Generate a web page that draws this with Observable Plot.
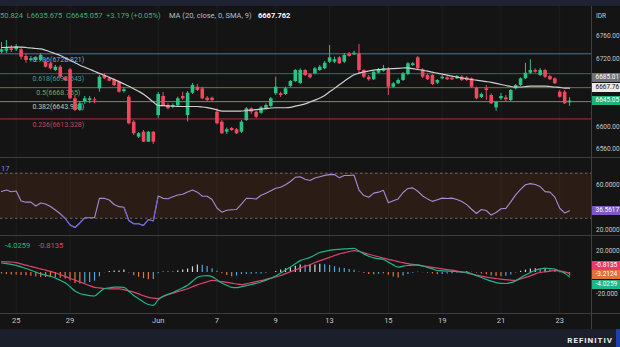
<!DOCTYPE html>
<html><head><meta charset="utf-8">
<script src="https://cdn.jsdelivr.net/npm/d3@7"></script>
<script src="https://cdn.jsdelivr.net/npm/@observablehq/plot@0.6"></script>
<style>
html,body{margin:0;padding:0;background:#141414;}
#root{position:relative;width:620px;height:347px;overflow:hidden;background:#141414;font-family:Roboto,"Noto Sans",sans-serif;}
.tag{position:absolute;left:592px;width:28px;height:9px;font-size:6.5px;line-height:9px;padding-left:3.5px;box-sizing:border-box;white-space:nowrap;overflow:hidden;}
.leg{position:absolute;font-size:7.5px;line-height:9px;white-space:nowrap;}
</style></head>
<body><div id="root"></div>
<script>
// ---------- DATA (4-hour candles, USD/IDR) ----------
const opens = [6731.6,6733.4,6737.7,6735.9,6735.9,6724.0,6716.9,6716.9,6716.9,6713.9,
6711.1,6699.2,6705.0,6686.2,6700.4,6649.0,6628.3,6644.2,6646.0,6647.2,
6666.7,6690.3,6684.5,6682.7,6678.4,6661.9,6651.8,6607.5,6581.0,6589.8,
6572.1,6589.8,6619.4,6653.1,6637.1,6634.1,6637.1,6653.1,6619.4,6658.9,
6669.6,6666.7,6650.1,6650.1,6625.3,6607.5,6589.8,6596.4,6594.1,6589.8,
6610.5,6631.3,6625.3,6623.5,6631.3,6635.4,6657.9,6657.9,6656.6,6670.8,
6679.7,6676.1,6699.2,6691.6,6693.3,6699.2,6702.2,6713.9,6713.9,6721.7,
6713.9,6728.8,6727.0,6728.8,6699.2,6687.3,6682.7,6694.4,6697.9,6700.4,
6669.6,6675.6,6681.5,6692.1,6708.1,6721.7,6700.4,6690.3,6690.3,6676.7,
6684.5,6686.2,6685.5,6684.5,6687.3,6686.2,6684.5,6667.8,6651.3,6666.7,
6654.9,6633.0,6649.0,6650.8,6646.0,6666.7,6672.6,6684.5,6694.4,6699.2,
6690.3,6699.2,6688.5,6684.5,6660.7,6660.7,6641.878];
const highs = [6748.8,6752.4,6743.5,6745.3,6740.5,6729.3,6724.0,6724.0,6729.3,6718.0,
6713.4,6708.1,6708.1,6688.5,6702.7,6654.9,6644.2,6653.1,6653.1,6651.3,
6690.3,6693.9,6686.2,6684.5,6680.2,6669.1,6655.0,6610.5,6589.3,6592.8,
6591.0,6591.0,6660.2,6660.2,6640.1,6640.1,6651.8,6660.7,6661.9,6676.1,
6674.4,6669.6,6653.1,6652.0,6631.3,6610.5,6597.2,6598.1,6596.4,6610.5,
6633.6,6633.0,6627.0,6635.4,6640.1,6651.3,6687.3,6660.7,6669.6,6681.5,
6701.0,6702.2,6701.0,6693.9,6704.5,6708.1,6715.2,6743.5,6722.8,6724.0,
6729.3,6731.1,6733.4,6745.3,6701.0,6690.3,6697.9,6702.7,6708.1,6704.5,
6677.9,6684.5,6695.6,6713.4,6713.4,6724.0,6702.2,6693.3,6692.1,6683.2,
6690.3,6688.5,6688.5,6690.3,6690.3,6688.5,6686.2,6669.6,6659.3,6672.6,
6657.9,6644.2,6658.4,6654.9,6665.5,6674.4,6686.2,6712.0,6718.2,6702.2,
6702.7,6701.0,6690.3,6686.2,6663.7,6663.7,6650.824];
const lows = [6728.8,6729.3,6731.1,6732.9,6718.2,6712.1,6713.9,6713.4,6715.2,6703.5,
6700.4,6697.4,6685.0,6679.7,6647.8,6626.5,6626.5,6638.9,6640.7,6640.7,
6660.7,6683.2,6679.0,6670.8,6658.9,6658.9,6602.9,6584.0,6578.6,6571.6,
6571.6,6568.0,6614.1,6635.4,6629.5,6631.3,6635.4,6646.0,6608.0,6656.6,
6661.9,6647.2,6644.2,6643.0,6602.9,6585.7,6585.7,6591.0,6585.7,6587.5,
6608.8,6621.2,6614.1,6621.2,6629.5,6633.6,6654.9,6651.3,6654.9,6669.1,
6677.9,6674.4,6688.5,6684.5,6691.6,6697.4,6700.4,6711.6,6711.6,6709.8,
6711.6,6722.8,6725.8,6693.3,6685.0,6680.2,6681.5,6693.3,6696.2,6654.9,
6667.3,6674.4,6679.7,6690.3,6706.3,6700.4,6685.0,6681.5,6672.6,6674.4,
6682.7,6681.5,6681.5,6683.2,6679.7,6679.7,6667.3,6647.2,6649.5,6646.0,
6638.9,6627.0,6646.0,6644.2,6644.2,6665.0,6670.8,6683.2,6692.1,6694.4,
6688.5,6685.0,6681.5,6674.4,6650.1,6638.9,6635.675];
const closes = [6735.9,6737.7,6734.7,6741.7,6722.8,6716.9,6719.9,6721.7,6725.8,6705.0,
6702.2,6705.0,6687.3,6681.5,6649.0,6628.3,6640.1,6649.0,6649.0,6646.0,
6687.3,6684.5,6680.2,6672.6,6660.7,6665.0,6604.7,6587.0,6587.0,6572.1,
6589.8,6572.1,6656.6,6637.1,6631.3,6637.1,6649.0,6649.0,6658.9,6672.6,
6663.7,6649.0,6646.0,6646.0,6604.7,6587.0,6594.1,6592.8,6587.0,6607.5,
6631.3,6625.3,6616.4,6633.0,6637.1,6649.0,6669.6,6654.9,6666.7,6679.7,
6699.2,6699.2,6690.3,6686.2,6702.2,6705.0,6712.1,6721.7,6718.2,6711.1,
6725.8,6724.0,6729.9,6699.2,6687.3,6682.7,6696.2,6700.4,6702.2,6669.6,
6675.6,6681.5,6693.3,6711.1,6711.1,6702.2,6687.3,6682.7,6674.4,6681.5,
6687.3,6682.7,6682.7,6688.5,6681.5,6681.5,6669.6,6649.0,6656.6,6663.7,
6640.1,6643.0,6653.1,6647.2,6663.7,6672.6,6684.5,6694.4,6699.2,6696.2,
6699.2,6687.3,6682.7,6675.6,6651.8,6640.1,6645.057];
const ma20 = [6740.0,6740.3,6740.5,6740.5,6740.5,6740.0,6739.1,6738.2,6737.5,6735.0,
6732.0,6728.8,6725.8,6721.5,6717.3,6712.8,6708.6,6704.9,6701.3,6697.8,
6694.0,6690.5,6687.0,6683.2,6679.5,6675.4,6671.2,6666.7,6662.3,6657.2,
6650.3,6643.3,6637.1,6636.8,6636.4,6636.1,6635.5,6635.4,6635.4,6635.4,
6635.4,6634.5,6633.2,6631.5,6629.3,6627.2,6627.0,6627.0,6627.0,6627.4,
6628.1,6628.8,6629.7,6630.8,6631.6,6632.7,6633.1,6633.1,6633.1,6633.8,
6635.9,6637.8,6640.0,6643.3,6646.7,6650.3,6655.0,6661.4,6667.5,6673.8,
6680.2,6686.4,6691.6,6694.4,6696.7,6698.3,6699.9,6700.8,6701.5,6702.2,
6702.6,6703.1,6703.6,6704.0,6702.4,6701.0,6699.6,6698.0,6696.2,6694.4,
6692.8,6691.0,6689.3,6687.5,6686.1,6684.6,6683.2,6682.0,6680.8,6679.5,
6678.1,6676.3,6674.4,6672.6,6670.8,6669.9,6669.9,6670.6,6671.4,6671.4,
6671.4,6671.4,6670.8,6669.9,6669.1,6668.0,6667.762];
const rsi = [53.8,55.1,53.5,54.2,45.3,44.3,44.3,40.9,43.6,42.7,
40.4,37.3,34.0,29.8,24.0,21.8,25.8,30.4,30.4,30.4,
47.8,47.7,46.2,42.2,40.3,39.8,28.0,25.1,25.1,23.6,
28.9,27.6,49.8,47.7,47.4,49.1,50.6,51.3,53.3,55.1,
53.2,49.6,49.6,46.7,39.1,35.4,37.1,37.6,37.8,42.5,
47.8,47.6,47.1,50.4,52.2,54.4,56.6,57.6,59.8,62.7,
66.4,66.8,64.6,63.6,65.7,66.9,68.1,68.8,68.9,65.9,
68.0,68.0,68.4,55.1,50.2,48.7,52.3,53.2,54.8,43.8,
45.6,47.2,52.9,56.5,57.0,54.0,49.8,47.2,45.0,46.4,
47.9,47.6,47.9,46.7,44.9,42.1,38.0,34.2,37.8,36.9,
32.8,35.1,38.4,38.8,44.6,50.8,55.7,59.8,60.8,60.0,
58.2,53.7,53.2,48.8,38.9,34.7,36.5617];
const macd = [8.77,8.13,7.48,6.65,5.17,3.69,2.12,0.46,-1.29,-2.40,
-3.60,-5.08,-7.20,-9.51,-13.11,-17.18,-19.39,-20.41,-21.33,-21.70,
-18.19,-14.96,-14.22,-13.57,-13.57,-13.67,-17.36,-21.15,-24.19,-27.24,
-29.55,-30.29,-25.12,-21.88,-20.13,-18.47,-16.34,-14.13,-11.73,-8.03,
-4.43,-3.23,-2.95,-3.79,-6.74,-9.70,-11.73,-13.76,-13.94,-13.11,
-12.19,-11.08,-9.97,-8.77,-7.11,-5.36,-3.32,-0.46,2.40,5.17,
8.03,10.99,12.47,13.94,16.16,18.47,19.48,20.41,21.05,21.42,
21.79,22.07,22.25,19.76,17.18,14.96,13.57,12.84,12.00,9.60,
7.02,4.99,5.82,6.46,6.83,7.02,6.00,4.80,3.32,1.85,
1.57,1.29,1.02,0.83,0.55,0.28,-1.20,-2.95,-4.62,-6.37,
-8.03,-9.33,-10.07,-10.16,-9.42,-7.76,-4.80,-2.31,0.00,2.12,
3.23,3.97,3.60,3.05,1.20,-0.74,-4.0259];
const signal = [10.07,9.88,9.70,9.05,7.94,6.74,5.63,4.52,3.32,2.22,
1.02,-0.28,-1.94,-3.60,-5.36,-7.02,-8.77,-10.43,-12.10,-13.67,
-14.22,-14.77,-15.05,-15.05,-15.05,-15.88,-16.99,-18.19,-19.76,-21.52,
-22.90,-23.73,-24.01,-22.25,-20.50,-19.02,-17.73,-16.34,-14.96,-13.20,
-11.45,-9.97,-8.59,-7.20,-7.85,-8.50,-9.05,-9.79,-10.62,-11.17,
-10.34,-9.42,-8.50,-7.48,-6.37,-5.26,-4.16,-2.77,-1.02,0.65,
2.31,4.06,5.73,7.11,9.23,10.90,12.37,13.94,15.70,17.18,
18.19,19.30,20.22,19.39,18.10,16.81,15.70,14.50,13.20,12.19,
11.08,10.07,9.05,8.22,7.48,6.83,6.19,5.45,4.71,3.97,
3.32,2.68,2.12,1.29,0.37,-0.46,-1.48,-2.40,-3.32,-4.25,
-4.89,-5.54,-6.09,-6.65,-7.02,-7.20,-5.91,-4.52,-3.14,-1.29,
0.00,0.65,1.29,1.75,1.48,0.65,-0.8135];
const tickIdx = [3,14,32,44,56,67,79,90,102,114];
const tickLabels = ["25","29","Jun","7","9","13","15","19","21","23"];
const fibRatios = ["0.786","0.618","0.5","0.382","0.236"];
const fibValues = [6728.821,6693.543,6668.765,6643.986,6613.328];
const fibLabelAt = 11.6;
const priceTicks = [6760,6720,6600,6560];
const rsiTicks = [60,20];
const macdTicks = [20,-20];

// ---------- STYLE ----------
const W = 620, MR = 28, FONT = "Roboto, 'Noto Sans', sans-serif";
const xDomain = [-0.2042, 120.69];
const UP = "#27c484", DOWN = "#f0485f";
const fibLine = ["#4f7594","#2f6e60","#6a7452","#85857a","#a8323f"];
const fibText = ["#7faed0","#3fa08c","#74ad55","#c9c9b0","#c9444f"];
const AX = "#c8c8c8";
const N = closes.length, idx = d3.range(N);
const isUp = i => closes[i] >= opens[i];
const bodyEnd = i => Math.abs(closes[i]-opens[i]) < 1.8 ? opens[i] + (isUp(i) ? 1.8 : -1.8) : closes[i];
const hist = idx.map(i => macd[i] - signal[i]);
const histColor = i => {
  const h = hist[i], p = i > 0 ? hist[i-1] : h;
  if (h >= 0) return h >= p ? "#d3d6dc" : "#4ea6de";
  return h <= p ? "#e8743e" : "#4ea6de";
};
const trunc2 = v => (Math.floor(v * 100) / 100).toFixed(2);
const root = document.getElementById("root");
function div(css, html){ const d = document.createElement("div"); d.style.cssText = css; if (html != null) d.innerHTML = html; root.appendChild(d); return d; }
const gridMark = () => Plot.ruleX(tickIdx, {x: d => d, stroke: "#ffffff", strokeOpacity: 0.045});
const common = {width: W, marginLeft: 0, marginRight: MR, marginTop: 0,
  x: {domain: xDomain, axis: null}, color: {type: "identity"},
  style: {background: "transparent", color: AX, fontFamily: FONT, fontSize: "7px", display: "block"}};
const axisText = (ticks, fmt) => Plot.text(ticks, {y: d => d, text: fmt, frameAnchor: "right", dx: 3.5, textAnchor: "start", fill: AX, fontSize: 6.5});

// top strip
div("position:absolute;left:0;top:0;width:620px;height:6px;background:#1e2231;");

// ---------- PRICE PANEL ----------
const fi = d3.range(fibValues.length);
const price = Plot.plot({...common, height: 151, marginBottom: 0,
  y: {domain: [6544.93, 6812.66], axis: null},
  marks: [
    gridMark(),
    Plot.ruleY(fi, {y: i => fibValues[i], stroke: i => fibLine[i], strokeWidth: 1}),
    Plot.text(fi, {x: () => fibLabelAt, y: i => fibValues[i], text: i => `${fibRatios[i]}(${fibValues[i].toFixed(3)})`, fill: i => fibText[i], dy: 5.5, fontSize: 7, textAnchor: "middle"}),
    Plot.ruleX(idx, {x: i => i, y1: i => lows[i], y2: i => highs[i], stroke: i => isUp(i) ? UP : DOWN, strokeWidth: 1}),
    Plot.ruleX(idx, {x: i => i, y1: i => opens[i], y2: bodyEnd, stroke: i => isUp(i) ? UP : DOWN, strokeWidth: 3.6}),
    Plot.line(idx, {x: i => i, y: i => ma20[i], stroke: "#cfcfcf", strokeWidth: 1.2, curve: "monotone-x"}),
    axisText(priceTicks, d => d.toFixed(2)),
    Plot.text(["IDR"], {text: d => d, frameAnchor: "top-right", dx: 3.5, dy: 7, textAnchor: "start", fill: AX, fontSize: 6.5})
  ]});
const pw = div("position:absolute;left:0;top:6px;width:620px;"); pw.appendChild(price);

// ---------- RSI PANEL ----------
const rsiSeg = idx.slice(1).filter(i => rsi[i] < 30 || rsi[i-1] < 30);
const rsiChart = Plot.plot({...common, height: 78, marginBottom: 0,
  y: {domain: [13.78, 83.11], axis: null},
  marks: [
    Plot.rect([0], {x1: () => xDomain[0], x2: () => xDomain[1], y1: () => 30, y2: () => 70, fill: "#2c1c16"}),
    gridMark(),
    Plot.ruleY([30, 70], {y: d => d, stroke: "#6a6a6a", strokeDasharray: "2.5,2.5", strokeWidth: 1}),
    Plot.line(idx, {x: i => i, y: i => rsi[i], stroke: "#a98bd2", strokeWidth: 1.1}),
    Plot.link(rsiSeg, {x1: i => i - 1, y1: i => rsi[i-1], x2: i => i, y2: i => rsi[i], stroke: "#6c63d6", strokeWidth: 1.1}),
    axisText(rsiTicks, d => d.toFixed(4))
  ]});
const rw = div("position:absolute;left:0;top:158px;width:620px;"); rw.appendChild(rsiChart);

// ---------- MACD PANEL ----------
const ti = d3.range(tickIdx.length);
const macdChart = Plot.plot({...common, height: 93, marginBottom: 16,
  y: {domain: [-37.86, 33.24], axis: null},
  marks: [
    gridMark(),
    Plot.ruleX(idx, {x: i => i, y1: () => 0, y2: i => hist[i], stroke: histColor, strokeWidth: 1.2}),
    Plot.line(idx, {x: i => i, y: i => signal[i], stroke: "#e0436b", strokeWidth: 1.2, curve: "monotone-x"}),
    Plot.line(idx, {x: i => i, y: i => macd[i], stroke: "#1fb589", strokeWidth: 1.2, curve: "monotone-x"}),
    axisText(macdTicks, d => d > 0 ? d.toFixed(4) : d.toFixed(3)),
    Plot.text(ti, {x: i => tickIdx[i], text: i => tickLabels[i], frameAnchor: "bottom", dy: 9, fill: AX, fontSize: 7.5})
  ]});
const mw = div("position:absolute;left:0;top:236px;width:620px;"); mw.appendChild(macdChart);

// separators & right axis border
div("position:absolute;left:0;top:157px;width:620px;height:1px;background:#3e3e3e;");
div("position:absolute;left:0;top:235px;width:620px;height:1px;background:#3e3e3e;");
div("position:absolute;left:0;top:313px;width:620px;height:1px;background:#3e3e3e;");
div("position:absolute;left:591px;top:6px;width:1px;height:323px;background:#404040;");

// ---------- value tags on the right axis ----------
function yOf(chart){ const s = chart.scale("y"); return s.apply ? v => s.apply(v) : d3.scaleLinear(s.domain, s.range); }
function spread(ys, gap){
  const order = ys.map((y, i) => [y, i]).sort((a, b) => a[0] - b[0]);
  let out = order.map(o => o[0]);
  if (out.some((y, k) => k > 0 && y - out[k-1] < gap)) {
    const m = d3.mean(out); out = out.map((_, k) => m + (k - (out.length - 1) / 2) * gap);
  }
  const res = []; order.forEach((o, k) => res[o[1]] = out[k]); return res;
}
function tags(chart, top, list){
  const f = yOf(chart);
  const ys = spread(list.map(t => top + f(t.v)), 9.6);
  list.forEach((t, k) => { const d = div(`top:${ys[k]-4.5}px;background:${t.bg};color:${t.fg};`, t.text); d.className = "tag"; });
}
tags(price, 6, [
  {v: 6685.01, text: "6685.01", bg: "#707278", fg: "#ffffff"},
  {v: ma20[N-1], text: trunc2(ma20[N-1]), bg: "#ebebeb", fg: "#111111"},
  {v: closes[N-1], text: trunc2(closes[N-1]), bg: "#1fb37a", fg: "#ffffff"}]);
tags(rsiChart, 158, [{v: rsi[N-1], text: rsi[N-1].toFixed(4), bg: "#7e57c2", fg: "#ffffff"}]);
tags(macdChart, 236, [
  {v: signal[N-1], text: signal[N-1].toFixed(4), bg: "#ea3a6d", fg: "#ffffff"},
  {v: hist[N-1], text: hist[N-1].toFixed(4), bg: "#e2703c", fg: "#ffffff"},
  {v: macd[N-1], text: macd[N-1].toFixed(4), bg: "#1fb589", fg: "#ffffff"}]);

// ---------- legends ----------
const G = "#3fb07f";
const o = opens[N-1], c = closes[N-1];
div(`left:0;top:10.5px;color:${G};`, `50.824&nbsp; L${lows[N-1].toFixed(3)}&nbsp; C${c.toFixed(3)}&nbsp; +${(c-o).toFixed(3)} (+0.05%)`).className = "leg";
div("left:169px;top:10.5px;color:#b8bcc4;", "MA (20, close, 0, SMA, 9)").className = "leg";
div("left:258px;top:10.5px;color:#ffffff;font-weight:bold;", ma20[N-1].toFixed(3)).className = "leg";
div("left:1px;top:163.5px;color:#9b7fd4;", "17").className = "leg";
div("left:5px;top:240.5px;color:#1fb589;", macd[N-1].toFixed(4)).className = "leg";
div("left:38px;top:240.5px;color:#e0436b;", signal[N-1].toFixed(4)).className = "leg";

// ---------- footer ----------
div("position:absolute;left:0;top:329px;width:620px;height:18px;background:#1b1f2c;");
div("position:absolute;right:7px;top:336px;color:#eeeeee;font-size:8px;line-height:10px;font-weight:bold;letter-spacing:1px;", "REFINITIV");
div("position:absolute;left:616px;top:329px;width:4px;height:18px;background:#1e3fae;");
</script>
</body></html>
